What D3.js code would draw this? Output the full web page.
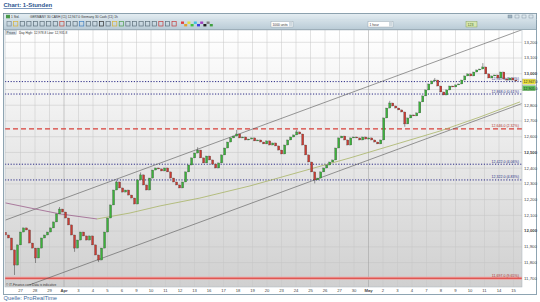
<!DOCTYPE html>
<html><head><meta charset="utf-8">
<script src="https://cdn.jsdelivr.net/npm/d3@7"></script>
<style>body{margin:0;background:#fff;} svg{display:block;font-family:"Liberation Sans",Arial,sans-serif;}</style>
</head><body><svg id="c" width="540" height="302"></svg>
<script>
// ---------------- DATA ----------------
const dayLabels = ["26","27","28","29","Apr","3","4","5","6","9","10","11","12","13","16","17","18","19","20","23","24","25","26","27","30","May","2","3","4","7","8","9","10","11","14","15"];
const priceTicks = [11700,11800,11900,12000,12100,12200,12300,12400,12500,12600,12700,12800,12900,13000,13100,13200];
const candlesPerDay = 4.83;
const firstOpen = 11990;
const closes = [11972,11953,11877,11781,11909,11991,12017,12004,11921,11889,
11826,11889,11953,11972,11991,12017,12055,12106,12137,12118,
12080,12036,11972,11889,11940,11991,11966,11940,11966,11909,
11845,11813,11889,11991,12080,12163,12258,12309,12271,12245,
12258,12226,12207,12169,12322,12354,12290,12258,12334,12385,
12398,12392,12379,12398,12373,12334,12309,12290,12271,12309,
12373,12417,12462,12493,12512,12462,12430,12474,12449,12423,
12398,12430,12481,12525,12563,12589,12601,12614,12589,12595,
12576,12582,12589,12570,12576,12563,12551,12570,12544,12557,
12538,12512,12487,12544,12576,12595,12608,12627,12614,12544,
12481,12436,12373,12322,12334,12373,12398,12417,12436,12449,
12525,12589,12601,12576,12544,12589,12595,12589,12576,12595,
12582,12589,12576,12563,12551,12576,12716,12779,12811,12792,
12779,12767,12754,12678,12716,12735,12729,12748,12818,12856,
12894,12932,12951,12957,12919,12881,12862,12894,12919,12913,
12926,12932,12957,12983,12996,12983,13008,13021,13027,13040,
12996,12970,12983,12989,12970,13008,12964,12957,12970,12957,12951];
const spikeIndex = [3,10,18,23,31,37,45,64,77,97,103,128,133,143,159];
const spikeHigh  = [null,null,12150,null,null,12320,12370,12530,12640,12640,null,12825,null,12970,13065];
const spikeLow   = [11718,11794,null,11865,11800,null,null,null,null,null,12300,null,12660,null,null];

const levelPrices = [12947,12868,12646,12422,12322,11697];
const levelKinds  = ["dot","dot","dash","dot","dot","solid"];
const levelLabels = ["12,947.0 (0.00%)","12,868.0 (0.61%)","12,646.0 (2.32%)","12,422.0 (4.06%)","12,322.0 (4.83%)","11,697.0 (9.65%)"];

const upperChannel = [[0,12067],[35.6,13276]];
const lowerChannel = [[1.69,11656],[35.6,12807]];
const maDays   = [0,1.69,3.76,6.31,8.59,10.66,13.41,16.86,20.31,23.76,27.21,29.97,32.72,35.48];
const maValues = [12176,12144,12106,12074,12112,12157,12207,12284,12373,12462,12557,12633,12722,12818];
const maFallingCount = 4;

const tagPrices = [12947.0, 12905.0];
const tagColors = ["#ede23e","#5ec45a"];

// ---------------- LAYOUT ----------------
const svg = d3.select("#c");
const P = {l:5, r:522, t:30, b:287};
const x = d3.scaleLinear().domain([0,35]).range([5.5,513]);
const y = d3.scaleLinear().domain([11700,13200]).range([277.8,41.8]);

const defs = svg.append("defs");
const g1 = defs.append("linearGradient").attr("id","bg").attr("x1",0).attr("y1",0).attr("x2",0).attr("y2",1);
g1.append("stop").attr("offset","0%").attr("stop-color","#ffffff");
g1.append("stop").attr("offset","100%").attr("stop-color","#d0d0d0");
const g2 = defs.append("linearGradient").attr("id","hd").attr("x1",0).attr("y1",0).attr("x2",0).attr("y2",1);
g2.append("stop").attr("offset","0%").attr("stop-color","#e4edf2");
g2.append("stop").attr("offset","100%").attr("stop-color","#b9cbd6");
defs.append("clipPath").attr("id","clip").append("rect").attr("x",P.l).attr("y",P.t).attr("width",P.r-P.l).attr("height",P.b-P.t);

// title
svg.append("text").attr("x",3.5).attr("y",7).attr("font-size",6).attr("font-weight","bold")
  .attr("fill","#2b568f").attr("text-decoration","underline").text("Chart: 1-Stunden");

// window frame + header
svg.append("rect").attr("x",3.5).attr("y",13.5).attr("width",533).attr("height",281).attr("fill","#fff").attr("stroke","#8ea4b2");
svg.append("rect").attr("x",3.5).attr("y",13.5).attr("width",533).attr("height",16).attr("fill","url(#hd)").attr("stroke","#6f8897").attr("stroke-width",0.6);
svg.append("line").attr("x1",3.5).attr("x2",536.5).attr("y1",19.5).attr("y2",19.5).attr("stroke","#cfdce4").attr("stroke-width",0.5);
svg.append("rect").attr("x",6).attr("y",14.8).attr("width",4).attr("height",3.5).attr("fill","#4a9a4a");
svg.append("text").attr("x",11).attr("y",17.8).attr("font-size",3.2).attr("fill","#333").text("1 Std.");
svg.append("text").attr("x",30).attr("y",17.8).attr("font-size",3.2).attr("fill","#333").text("GERMANY 30 CASH (€1)  12,947.0  Germany 30 Cash (€1) 1h");
[508,515,522,529].forEach((cx,i)=>svg.append("rect").attr("x",cx).attr("y",15).attr("width",4).attr("height",3).attr("fill",i==0?"#9fb3c0":"none").attr("stroke","#6f8494").attr("stroke-width",0.4));
const iconCols = ["#7a8a96","#d8b23a","#5d6f7b","#5d6f7b","#5d6f7b","#5d6f7b","#5d6f7b","#5d6f7b","#c4483b","#5d6f7b","#5d6f7b","#3f7fc0","#5d6f7b","#5d6f7b","#2f2f2f","#5d6f7b","#d8b23a","#4c9a4c","#5d6f7b","#5d6f7b","#5d6f7b","#5d6f7b","#5d6f7b","#c43b3b","#5d6f7b","#c43b3b"];
iconCols.forEach((c,i)=>{
  svg.append("rect").attr("x",7+i*6.6).attr("y",21.5).attr("width",4.2).attr("height",4.5).attr("fill","none").attr("stroke",c).attr("stroke-width",0.7);
});
const pal = ["#e04040","#e0a030","#e0e040","#40c040","#40c0e0","#4040e0","#a040c0","#202020","#808080","#40a040"];
pal.forEach((c,i)=>svg.append("rect").attr("x",181+i*3.2).attr("y",i%2?24:21.5).attr("width",3).attr("height",2.4).attr("fill",c));
function dropdown(x0,w,label){
  svg.append("rect").attr("x",x0).attr("y",21.5).attr("width",w).attr("height",5.5).attr("fill","#fff").attr("stroke","#8a9aa5").attr("stroke-width",0.4);
  svg.append("rect").attr("x",x0+w-4).attr("y",22).attr("width",3.5).attr("height",4.5).attr("fill","#cfd9df");
  svg.append("text").attr("x",x0+1.5).attr("y",25.5).attr("font-size",3.3).attr("fill","#333").text(label);
}
dropdown(271,22,"1000 units");
dropdown(368,25,"1 hour");
svg.append("rect").attr("x",466).attr("y",21.5).attr("width",11).attr("height",5.5).attr("fill","#d7e6b0").attr("stroke","#7c9a4c").attr("stroke-width",0.4);
svg.append("text").attr("x",467.5).attr("y",25.6).attr("font-size",3.6).attr("fill","#3d6b1e").text("123");

// plot background
svg.append("rect").attr("x",P.l).attr("y",P.t).attr("width",P.r-P.l).attr("height",P.b-P.t).attr("fill","url(#bg)");

// grid
const gy = svg.append("g").attr("transform",`translate(${P.l},0)`)
  .call(d3.axisRight(y).tickValues(priceTicks).tickSize(P.r-P.l).tickFormat(""));
gy.select(".domain").remove();
gy.selectAll("line").attr("stroke","#c4c4c4").attr("stroke-width",0.5);
const dayTicks = d3.range(1,dayLabels.length);
const gx = svg.append("g").attr("transform",`translate(0,${P.b})`)
  .call(d3.axisTop(x).tickValues(dayTicks).tickSize(P.b-P.t).tickFormat(""));
gx.select(".domain").remove();
gx.selectAll("line").attr("stroke",d=>(dayLabels[d]==="Apr"||dayLabels[d]==="May")?"#9a9a9a":"#c6c6c6").attr("stroke-width",0.5);

const plot = svg.append("g").attr("clip-path","url(#clip)");

// horizontal levels
levelPrices.forEach((p,i)=>{
  const k = levelKinds[i];
  const col = k==="dot" ? "#2b2b86" : "#d8403a";
  if(k==="solid"){
    plot.append("line").attr("x1",P.l).attr("x2",P.r).attr("y1",y(p)).attr("y2",y(p)).attr("stroke","#f0a0a0").attr("stroke-width",3);
  }
  plot.append("line").attr("x1",P.l).attr("x2",P.r).attr("y1",y(p)).attr("y2",y(p))
    .attr("stroke",col).attr("stroke-width",k==="dot"?1:(k==="dash"?1.3:1.2))
    .attr("stroke-dasharray",k==="dot"?"1.2,1.6":(k==="dash"?"5,3":null));
  plot.append("text").attr("x",P.r-3).attr("y",y(p)-1.5).attr("text-anchor","end").attr("font-size",3.6)
    .attr("fill",k==="dot"?"#2b2b86":"#b03030").text(levelLabels[i]);
});

// channel lines
const lineGen = d3.line().x(d=>x(d[0])).y(d=>y(d[1]));
plot.append("path").attr("d",lineGen(upperChannel)).attr("stroke","#555").attr("stroke-width",0.6).attr("fill","none");
plot.append("path").attr("d",lineGen(lowerChannel)).attr("stroke","#555").attr("stroke-width",0.6).attr("fill","none");

// moving average
const ma = maDays.map((d,i)=>[d,maValues[i]]);
plot.append("path").attr("d",lineGen(ma.slice(0,maFallingCount))).attr("stroke","#9c5f8c").attr("stroke-width",0.8).attr("fill","none");
plot.append("path").attr("d",lineGen(ma.slice(maFallingCount-1))).attr("stroke","#a8b466").attr("stroke-width",0.8).attr("fill","none");

// candles
const candles = closes.map((c,i)=>{
  const o = i===0 ? firstOpen : closes[i-1];
  let hi = Math.max(o,c), lo = Math.min(o,c);
  const s = spikeIndex.indexOf(i);
  if(s>=0){ if(spikeHigh[s]!=null) hi = spikeHigh[s]; if(spikeLow[s]!=null) lo = spikeLow[s]; }
  return {t:i/candlesPerDay, o, c, hi, lo};
});
const cw = 2.0;
plot.selectAll(".wick").data(candles).join("line")
  .attr("x1",d=>x(d.t)).attr("x2",d=>x(d.t)).attr("y1",d=>y(d.hi)).attr("y2",d=>y(d.lo))
  .attr("stroke","#3a3a3a").attr("stroke-width",0.5);
plot.selectAll(".body").data(candles).join("rect")
  .attr("x",d=>x(d.t)-cw/2).attr("width",cw)
  .attr("y",d=>y(Math.max(d.o,d.c))).attr("height",d=>Math.max(0.8,Math.abs(y(d.o)-y(d.c))))
  .attr("fill",d=>d.c>=d.o?"#3bb33a":"#cc3b32").attr("stroke","#3a3a3a").attr("stroke-width",0.3);

// plot border
svg.append("rect").attr("x",P.l).attr("y",P.t).attr("width",P.r-P.l).attr("height",P.b-P.t).attr("fill","none").attr("stroke","#a8b4bc").attr("stroke-width",0.5);

// legend row
svg.append("rect").attr("x",5.5).attr("y",30.5).attr("width",11).attr("height",4.2).attr("fill","#dfe7ec").attr("stroke","#8b9ba6").attr("stroke-width",0.3);
svg.append("text").attr("x",6.5).attr("y",33.8).attr("font-size",3.2).attr("fill","#223").text("Prices");
svg.append("text").attr("x",19).attr("y",33.8).attr("font-size",3.2).attr("fill","#333").text("Day High: 12,978.8  Low: 12,931.8");
svg.append("text").attr("x",6).attr("y",285.5).attr("font-size",3.2).attr("fill","#333").text("© IT-Finance.com  Data is indicative");

// y axis labels (hidden where a price tag covers them)
const ya = svg.append("g").attr("transform",`translate(${P.r},0)`)
  .call(d3.axisRight(y).tickValues(priceTicks).tickSize(0).tickPadding(2).tickFormat(d3.format(",")));
ya.select(".domain").remove();
ya.selectAll("text").attr("font-size",4.3).attr("fill","#444").attr("font-family","Liberation Sans, Arial")
  .attr("font-weight",d=>d%500===0?"bold":"normal")
  .attr("display",d=>tagPrices.some(p=>Math.abs(y(p)-y(d))<4.5)?"none":null);

// price tags
tagPrices.forEach((p,i)=>{
  svg.append("rect").attr("x",P.r+0.5).attr("y",y(p)-2.6).attr("width",13).attr("height",5.2).attr("fill",tagColors[i]).attr("stroke","#888").attr("stroke-width",0.3);
  svg.append("text").attr("x",P.r+1.5).attr("y",y(p)+1.3).attr("font-size",3.6).attr("fill","#222").text(d3.format(",.1f")(p));
});

// x axis labels
const xa = svg.append("g").attr("transform",`translate(0,${P.b})`)
  .call(d3.axisBottom(x).tickValues(dayTicks).tickSize(0).tickPadding(2.5).tickFormat(d=>dayLabels[d]));
xa.select(".domain").remove();
xa.selectAll("text").attr("font-size",4.2).attr("fill","#444").attr("font-family","Liberation Sans, Arial")
  .attr("font-weight",d=>(dayLabels[d]==="Apr"||dayLabels[d]==="May")?"bold":"normal");

// source
svg.append("text").attr("x",3.5).attr("y",299.5).attr("font-size",5.8).attr("fill","#3d6aa0").text("Quelle: ProRealTime");
</script></body></html>
